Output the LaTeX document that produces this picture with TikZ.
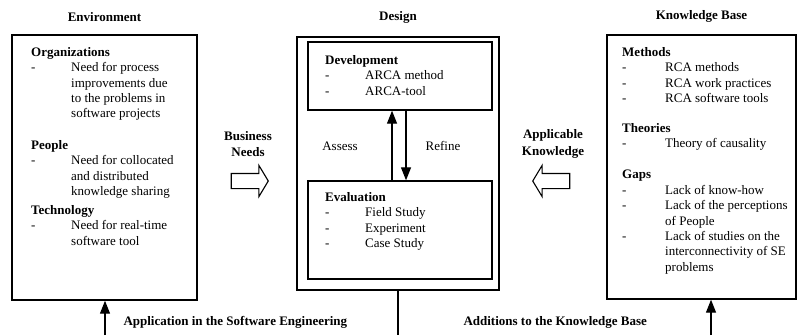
\documentclass[tikz,border=0pt]{standalone}
\usepackage{fontspec}
\setmainfont{Liberation Serif}
\usetikzlibrary{shapes.arrows, arrows.meta}
\tikzstyle{frame} = [rectangle, draw=black, line width=1.4pt, inner sep=0pt]
\tikzstyle{heading} = [font=\bfseries\fontsize{13}{16.5}\selectfont, align=center]
\tikzstyle{plain} = [font=\fontsize{13}{16}\selectfont]
\tikzstyle{block} = [anchor=north west, align=left, inner sep=0pt,
font=\fontsize{13}{15.4}\selectfont]
\tikzstyle{fat} = [single arrow, draw=black, line width=1.1pt,
minimum height=37pt, inner sep=7pt,
single arrow head extend=8pt, single arrow tip angle=118]
\tikzstyle{arrow} = [line width=1.3pt, -{Triangle[length=13pt,width=10pt]}]
\newcommand{\itm}[2][40pt]{\makebox[#1][l]{-}#2}
\newcommand{\cnt}[2][40pt]{\hspace*{#1}#2}

\begin{document}
\begin{tikzpicture}[x=1pt, y=-1pt]
\useasboundingbox (0,0) rectangle (805,335);

% column titles
\node (envtitle) [heading] at (104.5,17) {Environment};
\node (destitle) [heading] at (398,17) {Design};
\node (kbtitle) [heading] at (701.5,16) {Knowledge Base};

% frames
\node (env) [frame, minimum width=185pt, minimum height=265pt] at (104.5,167.5) {};
\node (des) [frame, minimum width=202pt, minimum height=253pt] at (398,163.5) {};
\node (dev) [frame, minimum width=184pt, minimum height=68pt] at (400,76) {};
\node (eval) [frame, minimum width=184pt, minimum height=98pt] at (400,230) {};
\node (kb) [frame, minimum width=189pt, minimum height=264pt] at (701.5,167) {};

% environment
\node (org) [block] at (31,47) {\textbf{Organizations}\\
\itm{Need for process}\\ \cnt{improvements due}\\
\cnt{to the problems in}\\ \cnt{software projects}};
\node (people) [block] at (31,140) {\textbf{People}\\
\itm{Need for collocated}\\ \cnt{and distributed}\\ \cnt{knowledge sharing}};
\node (tech) [block] at (31,205) {\textbf{Technology}\\
\itm{Need for real-time}\\ \cnt{software tool}};

% design
\node (devtext) [block] at (325,55) {\textbf{Development}\\
\itm{ARCA method}\\ \itm{ARCA-tool}};
\node (evaltext) [block] at (325,192) {\textbf{Evaluation}\\
\itm{Field Study}\\ \itm{Experiment}\\ \itm{Case Study}};
\node (assess) [plain] at (340,146) {Assess};
\node (refine) [plain] at (443,146) {Refine};
\draw [arrow] ([xshift=-8pt]eval.north) -- ([xshift=-8pt]dev.south);
\draw [arrow] ([xshift=6pt]dev.south) -- ([xshift=6pt]eval.north);

% knowledge base
\node (methods) [block] at (622,47) {\textbf{Methods}\\
\itm[43pt]{RCA methods}\\ \itm[43pt]{RCA work practices}\\
\itm[43pt]{RCA software tools}};
\node (theories) [block] at (622,123) {\textbf{Theories}\\
\itm[43pt]{Theory of causality}};
\node (gaps) [block] at (622,170) {\textbf{Gaps}\\
\itm[43pt]{Lack of know-how}\\ \itm[43pt]{Lack of the perceptions}\\
\cnt[43pt]{of People}\\ \itm[43pt]{Lack of studies on the}\\
\cnt[43pt]{interconnectivity of SE}\\ \cnt[43pt]{problems}};

% flows between columns
\node (bn) [heading] at (248,144) {Business\\Needs};
\node (bnarrow) [fat] at (247.5,181) {};
\node (ak) [heading] at (553,144) {Applicable\\Knowledge};
\node (akarrow) [fat, shape border rotate=180] at (553.5,181) {};

% feedback at the bottom
\coordinate (envfoot) at (105,335);
\coordinate (desfoot) at (398,335);
\coordinate (kbfoot) at (711,335);
\draw [arrow] (envfoot) -- (envfoot |- env.south);
\draw [line width=1.3pt] (des.south) -- (desfoot);
\draw [arrow] (kbfoot) -- (kbfoot |- kb.south);
\node (app) [heading, anchor=west] at (120,322) {Application in the Software Engineering};
\node (add) [heading, anchor=west] at (460,322) {Additions to the Knowledge Base};
\end{tikzpicture}
\end{document}
